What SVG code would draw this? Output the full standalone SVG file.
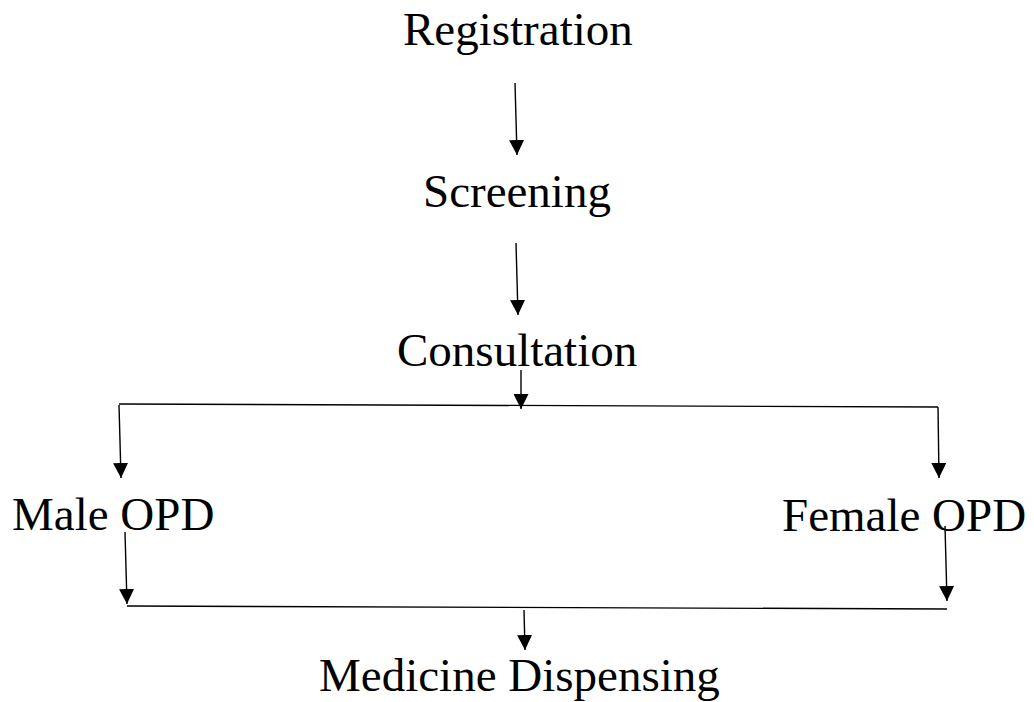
<svg xmlns="http://www.w3.org/2000/svg" width="1034" height="702" viewBox="0 0 1034 702">
<style>
.t{font-family:"Liberation Serif","Times New Roman",serif;font-size:47px;fill:#000}
.c{stroke:#000;stroke-width:1.4;fill:none}
.a{marker-end:url(#ah)}
</style>
<defs>
<marker id="ah" markerUnits="userSpaceOnUse" markerWidth="15" markerHeight="15" viewBox="0 0 10 10" refX="10" refY="5" orient="auto">
<path d="M0,0 L10,5 L0,10 z" fill="#000"/>
</marker>
</defs>
<rect width="1034" height="702" fill="#fff"/>
<g id="registration"><text class="t" x="403" y="45">Registration</text></g>
<g id="screening"><text class="t" x="423" y="207">Screening</text></g>
<g id="consultation"><text class="t" x="397" y="366">Consultation</text></g>
<g id="male-opd"><text class="t" x="12" y="530">Male OPD</text></g>
<g id="female-opd"><text class="t" x="782" y="531">Female OPD</text></g>
<g id="medicine-dispensing"><text class="t" x="319" y="691">Medicine Dispensing</text></g>
<g id="connectors">
<line class="c a" x1="515" y1="83" x2="517" y2="155"/>
<line class="c a" x1="516" y1="243" x2="518" y2="315"/>
<line class="c a" x1="521" y1="370" x2="521" y2="409"/>
<line class="c" x1="119" y1="404" x2="938" y2="407"/>
<line class="c a" x1="119" y1="405" x2="121" y2="478"/>
<line class="c a" x1="938" y1="407" x2="939" y2="478"/>
<line class="c a" x1="125" y1="532" x2="127" y2="604"/>
<line class="c" x1="127" y1="606" x2="947" y2="609"/>
<line class="c a" x1="945" y1="526" x2="947" y2="601"/>
<line class="c a" x1="524" y1="610" x2="525" y2="650"/>
</g>
</svg>
